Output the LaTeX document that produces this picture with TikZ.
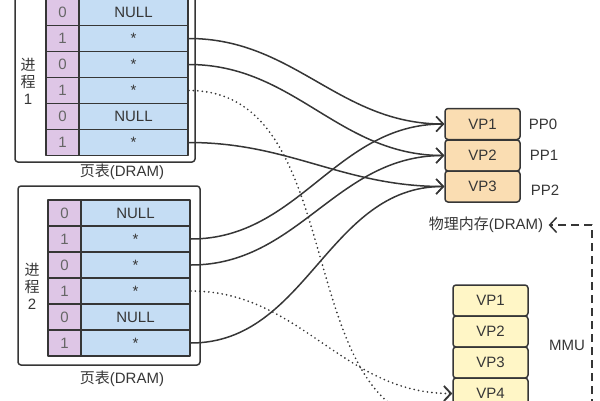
\documentclass[tikz,border=0pt]{standalone}
\usepackage{fontspec}
\setmainfont{Liberation Sans}
\newfontfamily\cjk{Noto Sans CJK SC}
\usetikzlibrary{arrows.meta}
\definecolor{linec}{HTML}{363636}
\definecolor{bitc}{HTML}{DEC6E6}
\definecolor{entc}{HTML}{C5DDF4}
\definecolor{physc}{HTML}{FADDB2}
\definecolor{virtc}{HTML}{FFF6C6}
\tikzset{
  frame/.style={draw=linec,line width=1.5pt,rounded corners=3pt,inner sep=0pt},
  bit/.style={draw=linec,fill=bitc,line width=1.7pt,minimum width=33pt,minimum height=26pt,inner sep=0pt,text=black!60},
  entry/.style={draw=linec,fill=entc,line width=1.7pt,minimum width=109pt,minimum height=26pt,inner sep=0pt,text=linec},
  ppage/.style={draw=linec,fill=physc,line width=1.5pt,rounded corners=3pt,minimum width=75pt,minimum height=31pt,inner sep=0pt,text=linec},
  vpage/.style={draw=linec,fill=virtc,line width=1.5pt,rounded corners=3pt,minimum width=75pt,minimum height=31pt,inner sep=0pt,text=linec},
  mapline/.style={draw=linec,line width=1.5pt},
  ondisk/.style={draw=linec,line width=1.9pt,dash pattern=on 0pt off 4.5pt},
  mmuline/.style={draw=linec,line width=1.5pt,dash pattern=on 8pt off 5pt,line cap=butt}
}
\begin{document}
\begin{tikzpicture}[line cap=round,line join=round,>={Straight Barb[length=7pt,width=15pt]},x=1pt,y=-1pt,font=\fontsize{15}{17}\selectfont]
\useasboundingbox (0,0) rectangle (600,400);
\clip (0,0) rectangle (600,400);
% process 1
\node[frame,minimum width=180pt,minimum height=176pt] (proc1) at (105,74) {};
\node[bit] (p1b1) at (62.5,12.5) {0};
\node[bit] (p1b2) at (62.5,38.5) {1};
\node[bit] (p1b3) at (62.5,64.5) {0};
\node[bit] (p1b4) at (62.5,90.5) {1};
\node[bit] (p1b5) at (62.5,116.5) {0};
\node[bit] (p1b6) at (62.5,142.5) {1};
\node[entry] (p1e1) at (133.5,12.5) {NULL};
\node[entry] (p1e2) at (133.5,38.5) {*};
\node[entry] (p1e3) at (133.5,64.5) {*};
\node[entry] (p1e4) at (133.5,90.5) {*};
\node[entry] (p1e5) at (133.5,116.5) {NULL};
\node[entry] (p1e6) at (133.5,142.5) {*};
\node[align=center,text=linec] (p1name) at (28,81) {{\cjk 进}\\{\cjk 程}\\1};
\node[text=linec] (p1tab) at (122,172) {{\cjk 页表}(DRAM)};
% process 2
\node[frame,minimum width=182pt,minimum height=179pt] (proc2) at (109,275.5) {};
\node[bit] (p2b1) at (64.5,213) {0};
\node[bit] (p2b2) at (64.5,239) {1};
\node[bit] (p2b3) at (64.5,265) {0};
\node[bit] (p2b4) at (64.5,291) {1};
\node[bit] (p2b5) at (64.5,317) {0};
\node[bit] (p2b6) at (64.5,343) {1};
\node[entry] (p2e1) at (135.5,213) {NULL};
\node[entry] (p2e2) at (135.5,239) {*};
\node[entry] (p2e3) at (135.5,265) {*};
\node[entry] (p2e4) at (135.5,291) {*};
\node[entry] (p2e5) at (135.5,317) {NULL};
\node[entry] (p2e6) at (135.5,343) {*};
\node[align=center,text=linec] (p2name) at (32,286) {{\cjk 进}\\{\cjk 程}\\2};
\node[text=linec] (p2tab) at (122,379) {{\cjk 页表}(DRAM)};
% physical memory
\node[ppage] (m1) at (482.5,124) {VP1};
\node[ppage] (m2) at (482.5,155.5) {VP2};
\node[ppage] (m3) at (482.5,186.5) {VP3};
\node[text=linec] (pp0) at (543,124) {PP0};
\node[text=linec] (pp1) at (544,155) {PP1};
\node[text=linec] (pp2) at (545,190) {PP2};
\node[text=linec] (memlbl) at (486,225) {{\cjk 物理内存}(DRAM)};
% virtual pages on disk
\node[vpage] (v1) at (490.5,300.5) {VP1};
\node[vpage] (v2) at (490.5,331.5) {VP2};
\node[vpage] (v3) at (490.5,362.5) {VP3};
\node[vpage] (v4) at (490.5,393.5) {VP4};
\node[vpage] (v5) at (490.5,424.5) {VP5};
\node[text=linec] (mmu) at (567,345) {MMU};
\coordinate (mmubot) at (592,420);
% mappings
\draw[mapline,->] (p1e2.east) to[out=0,in=180] (m1.west);
\draw[mapline,->] (p1e3.east) to[out=0,in=180] (m2.west);
\draw[mapline,->] (p1e6.east) to[out=0,in=180] (m3.west);
\draw[mapline,->] (p2e2.east) to[out=0,in=180] (m1.west);
\draw[mapline,->] (p2e3.east) to[out=0,in=180] (m2.west);
\draw[mapline,->] (p2e6.east) to[out=0,in=180] (m3.west);
\draw[ondisk,->] (p1e4.east) to[out=0,in=180] (v5.west);
\draw[ondisk,->] (p2e4.east) to[out=0,in=180] (v4.west);
\draw[mmuline,->] (mmubot) |- ([xshift=2pt]memlbl.east);
\end{tikzpicture}
\end{document}
